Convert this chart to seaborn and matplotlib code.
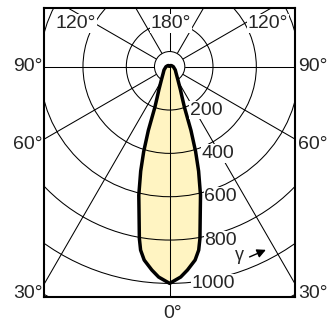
import numpy as np
import pandas as pd
import seaborn as sns
import matplotlib
matplotlib.use("Agg")
import matplotlib.pyplot as plt

# intensity (cd) against gamma (deg), one half of the symmetric lobe
gamma = [0, 3, 5, 7.5, 9, 10, 12, 13.5, 15.5, 17, 18.5, 20, 22, 25, 32, 45, 60, 90, 120, 150, 180]
intensity = [1000, 972, 942, 900, 857, 805, 680, 610, 500, 410, 310, 200, 155, 118, 72, 42, 30, 17, 10, 6, 3]

rings = [200, 400, 600, 800, 1000, 1200]
ring_labels = ["200", "400", "600", "800", "1000"]
spoke_angles = [0, 30, 60, 90, 120, 150, 180]
side_labels = ["90°", "60°", "30°"]
top_labels = ["120°", "180°", "120°"]

sns.set_style("white")
plt.rcParams["font.family"] = ["Liberation Sans", "DejaVu Sans"]

# mirror the half lobe to get the full closed curve
g = np.radians(np.concatenate([-np.array(gamma[::-1]), np.array(gamma[1:])]))
r = np.concatenate([np.array(intensity[::-1]), np.array(intensity[1:])])
lobe = pd.DataFrame({"x": r * np.sin(g), "y": -r * np.cos(g)})

fig = plt.figure(figsize=(3.27, 3.26), dpi=100)
ax = fig.add_axes([44.3 / 327, 1 - 297 / 326, 250.7 / 327, 288.7 / 326])
ax.set_xlim(-578.5, 578.5)
ax.set_ylim(-1062.8, 269.5)

hub = 70
# spokes
for a in spoke_angles:
    for sgn in ([1] if a in (0, 180) else [1, -1]):
        t = np.radians(a) * sgn
        r0 = 0 if a == 0 else hub
        ax.plot([r0 * np.sin(t), 2000 * np.sin(t)], [-r0 * np.cos(t), -2000 * np.cos(t)],
                color="black", lw=0.75, zorder=3 if a == 0 else 1)
ax.add_patch(plt.Circle((0, 0), hub, facecolor="white", edgecolor="black", lw=0.75, zorder=1.5))

# lobe
ax.fill(lobe["x"], lobe["y"], color="#fff4c2", zorder=2, lw=0)
for rr in rings:
    ax.add_patch(plt.Circle((0, 0), rr, fill=False, edgecolor="black", lw=0.75, zorder=3))
sns.lineplot(data=lobe, x="x", y="y", sort=False, estimator=None, color="black",
             lw=2.5, ax=ax, zorder=4)

box = dict(facecolor="white", edgecolor="none", pad=0.6)
fs = 14
for lab, val, xo in zip(ring_labels, rings, [92, 146, 160, 160, 100]):
    ax.text(xo, -val, lab, ha="left", va="center", fontsize=fs, bbox=box, zorder=5)

for lab, xo in zip(top_labels, [-432, 5, 454]):
    ax.text(xo, 200, lab, ha="center", va="center", fontsize=fs, bbox=box, zorder=5)

for lab, yo in zip(side_labels, [0, -361, -1045]):
    ax.text(-588, yo, lab, ha="right", va="center", fontsize=fs, clip_on=False)
    ax.text(593, yo, lab, ha="left", va="center", fontsize=fs, clip_on=False)
ax.text(13, -1137, "0°", ha="center", va="center", fontsize=fs, clip_on=False)

ax.text(324, -872, "γ", ha="center", va="center", fontsize=13, zorder=5)
ax.annotate("", xy=(456, -840), xytext=(357, -883),
            arrowprops=dict(arrowstyle="-|>", color="black", lw=1.0, mutation_scale=13), zorder=5)

ax.set_xlabel("")
ax.set_ylabel("")
ax.set_xticks([])
ax.set_yticks([])
for sp in ax.spines.values():
    sp.set_color("black")
    sp.set_linewidth(1.5)
    sp.set_zorder(6)

fig.savefig("out.png", dpi=100)
